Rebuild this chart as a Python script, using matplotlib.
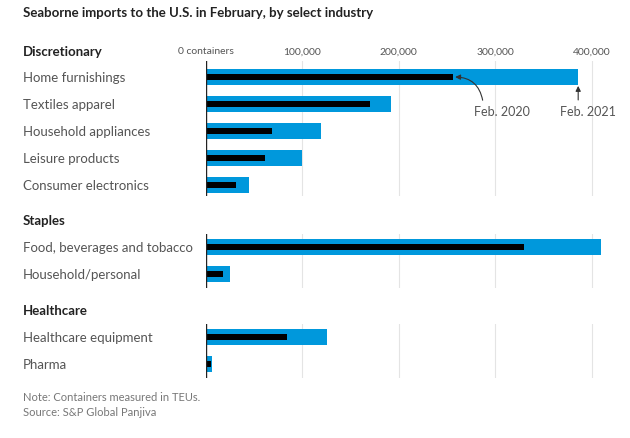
import matplotlib
matplotlib.use("Agg")
import matplotlib.pyplot as plt

plt.rcParams['font.family'] = ['Lato', 'DejaVu Sans']

W, H = 630, 439

title = "Seaborne imports to the U.S. in February, by select industry"
groups = ["Discretionary", "Staples", "Healthcare"]
group_cats = [
    ["Home furnishings", "Textiles apparel", "Household appliances", "Leisure products", "Consumer electronics"],
    ["Food, beverages and tobacco", "Household/personal"],
    ["Healthcare equipment", "Pharma"],
]
feb2021 = [
    [386000, 192000, 120000, 100000, 44500],
    [409500, 25000],
    [126000, 7000],
]
feb2020 = [
    [256000, 170000, 69000, 61000, 31000],
    [330000, 18000],
    [84000, 6000],
]
tick_vals = [0, 100000, 200000, 300000, 400000]
tick_labels = ["0 containers", "100,000", "200,000", "300,000", "400,000"]
note = "Note: Containers measured in TEUs."
source = "Source: S&P Global Panjiva"

BLUE = "#0098dc"
ROW = 27.0
x0_px, px_per = 205.7, 0.965 / 1000.0
XMAX = 420000
first_row_px = [78, 248, 338]
header_px = [52, 221, 311]

fig = plt.figure(figsize=(W / 100, H / 100), dpi=100)

def fx(x):
    return x / W

def fy(y):
    return 1 - y / H

fig.text(fx(23), fy(13), title, fontsize=9.5, fontweight='bold', color='#222222', va='center', ha='left')

axes = []
for gi, cats in enumerate(group_cats):
    n = len(cats)
    top_pad = 0.6 if gi == 0 else 0.5
    top_px = first_row_px[gi] - top_pad * ROW
    bot_px = first_row_px[gi] + (n - 0.5) * ROW
    if gi == 0:
        bot_px = first_row_px[gi] + (n - 1 + 0.4) * ROW
    left = fx(x0_px)
    width = XMAX * px_per / W
    ax = fig.add_axes([left, fy(bot_px), width, (bot_px - top_px) / H])
    ypos = list(range(n))
    ax.barh(ypos, feb2021[gi], height=0.62, color=BLUE, zorder=2)
    ax.barh(ypos, feb2020[gi], height=0.19, color='black', zorder=3)
    ax.set_xlim(0, XMAX)
    bottom_lim = (bot_px - first_row_px[gi]) / ROW
    ax.set_ylim(bottom_lim, -top_pad)
    for v in tick_vals[1:]:
        ax.axvline(v, color='#e4e4e4', lw=0.8, zorder=1)
    ax.axvline(0, color='#222222', lw=1.0, zorder=4)
    for s in ax.spines.values():
        s.set_visible(False)
    ax.set_xticks([])
    ax.set_yticks([])
    ax.patch.set_alpha(0)
    for i, c in enumerate(cats):
        fig.text(fx(23), fy(first_row_px[gi] + i * ROW), c, fontsize=9.5, color='#555555', va='center', ha='left')
    fig.text(fx(23), fy(header_px[gi]), groups[gi], fontsize=9.5, fontweight='bold', color='#222222', va='center', ha='left')
    axes.append(ax)

ax0 = axes[0]
for v, lab in zip(tick_vals, tick_labels):
    fig.text(fx(x0_px + v * px_per), fy(52), lab, fontsize=7.5, color='#555555', va='center', ha='center')

# annotations
ax0.annotate('', xy=(feb2020[0][0] + 2500, 0), xytext=(287000, 0.86),
             arrowprops=dict(arrowstyle='-|>,head_length=0.3,head_width=0.15', connectionstyle='arc3,rad=0.4',
                             color='#333333', lw=0.8, shrinkA=0, shrinkB=0))
ax0.text(307000, 1.27, "Feb. 2020", fontsize=9, color='#555555', ha='center', va='center')
ax0.annotate('', xy=(feb2021[0][0], 0.33), xytext=(feb2021[0][0], 0.85),
             arrowprops=dict(arrowstyle='-|>,head_length=0.3,head_width=0.15', color='#333333', lw=0.8,
                             shrinkA=0, shrinkB=0))
ax0.text(396000, 1.27, "Feb. 2021", fontsize=9, color='#555555', ha='center', va='center')

fig.text(fx(23), fy(398), note, fontsize=8, color='#777777', va='center', ha='left')
fig.text(fx(23), fy(413), source, fontsize=8, color='#777777', va='center', ha='left')

fig.savefig("out.png", dpi=100)
